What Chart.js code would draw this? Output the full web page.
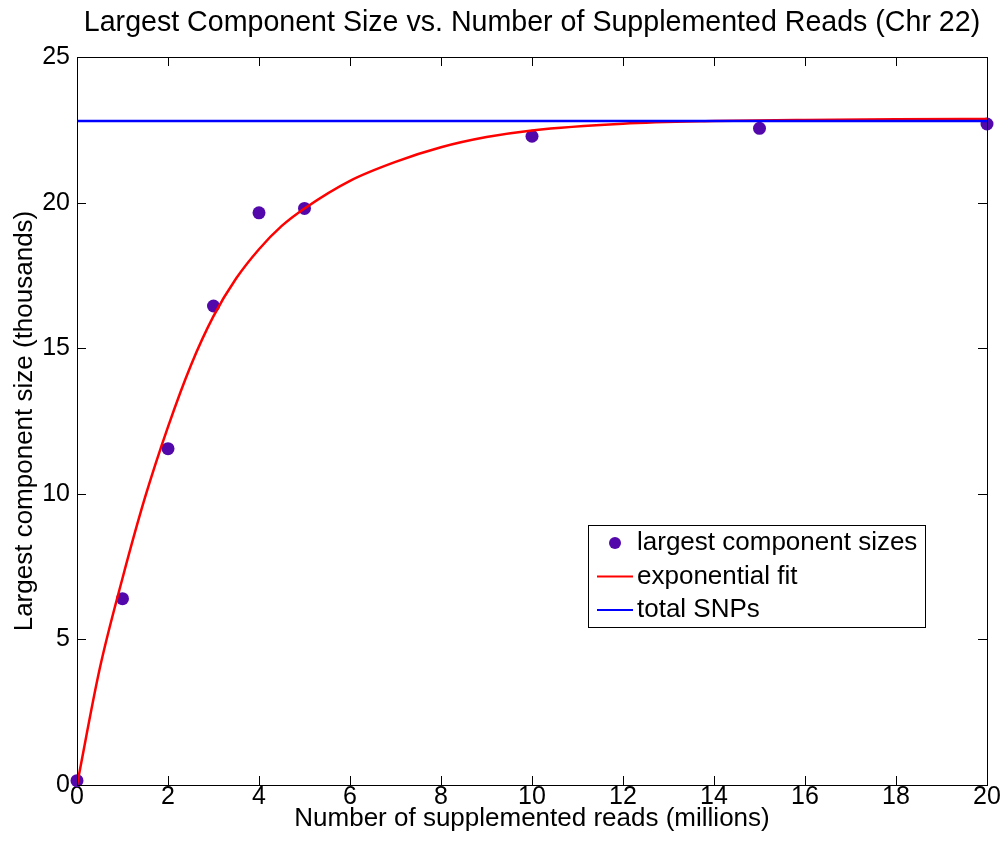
<!DOCTYPE html>
<html>
<head>
<meta charset="utf-8">
<script src="https://cdn.jsdelivr.net/npm/chart.js@4.4.1/dist/chart.umd.min.js"></script>
<style>
  html, body { margin: 0; padding: 0; background: #fff; }
  #wrap { width: 1006px; height: 844px; }
</style>
</head>
<body>
<div id="wrap"><canvas id="chart" width="1006" height="844"></canvas></div>
<script>
// x in millions of reads, y in thousands
const readsX = [0, 1, 2, 3, 4, 5, 10, 15, 20]
const compSizes = [0.15, 6.4, 11.55, 16.45, 19.65, 19.8, 22.28, 22.55, 22.7]

// red fitted curve
const fitX = [0, 0.5, 1, 1.5, 2, 2.5, 3, 3.5, 4, 4.5, 5, 6, 7, 8, 9, 10, 12, 14, 16, 18, 20]
const fitY = [0, 4.0, 7.1, 9.9, 12.3, 14.4, 16.1, 17.4, 18.4, 19.2, 19.8, 20.75, 21.4, 21.9, 22.25, 22.48, 22.71, 22.8, 22.84, 22.86, 22.87]

const snpX = [0, 20]
const snpY = [22.8, 22.8]

const titleText = 'Largest Component Size vs. Number of Supplemented Reads (Chr 22)'
const FONT = "'Liberation Sans', Arial, Helvetica, sans-serif"

function pts(xs, ys) {
    return xs.map((x, i) => ({ x: x, y: ys[i] }))
}

// matlab style box with inward ticks, title over the axes, legend inside
const boxPlugin = {
    id: 'matlabBox',
    afterDatasetsDraw(chart) {
        const ctx = chart.ctx
        const a = chart.chartArea
        const xs = chart.scales.x
        const ys = chart.scales.y
        const tl = 9
        ctx.save()
        ctx.strokeStyle = '#000'
        ctx.lineWidth = 1
        ctx.beginPath()
        xs.ticks.forEach(t => {
            const px = Math.round(xs.getPixelForValue(t.value)) + 0.5
            ctx.moveTo(px, a.bottom); ctx.lineTo(px, a.bottom - tl)
            ctx.moveTo(px, a.top); ctx.lineTo(px, a.top + tl)
        })
        ys.ticks.forEach(t => {
            const py = Math.round(ys.getPixelForValue(t.value)) + 0.5
            ctx.moveTo(a.left, py); ctx.lineTo(a.left + tl, py)
            ctx.moveTo(a.right, py); ctx.lineTo(a.right - tl, py)
        })
        ctx.stroke()
        ctx.strokeRect(Math.round(a.left) + 0.5, Math.round(a.top) + 0.5,
            Math.round(a.right - a.left), Math.round(a.bottom - a.top))
        ctx.restore()
    },
    afterDraw(chart) {
        const ctx = chart.ctx
        const a = chart.chartArea
        const ds = chart.data.datasets
        ctx.save()
        // title centred on the axes box like matlab does
        ctx.fillStyle = '#000'
        ctx.font = '28.6px ' + FONT
        ctx.textAlign = 'center'
        ctx.textBaseline = 'middle'
        ctx.fillText(titleText, (a.left + a.right) / 2, 23)

        const lx = 588, ly = 525, lw = 337, lh = 102
        ctx.fillStyle = '#fff'
        ctx.fillRect(lx, ly, lw, lh)
        ctx.strokeStyle = '#000'
        ctx.lineWidth = 1
        ctx.strokeRect(lx + 0.5, ly + 0.5, lw, lh)
        ctx.font = '26px ' + FONT
        ctx.textAlign = 'left'
        ds.forEach((d, i) => {
            const cy = ly + 18 + i * 33.5
            if (d.showLine === false) {
                ctx.fillStyle = d.backgroundColor
                ctx.beginPath()
                ctx.arc(lx + 27, cy, 6, 0, Math.PI * 2)
                ctx.fill()
            } else {
                ctx.strokeStyle = d.borderColor
                ctx.lineWidth = 2
                ctx.beginPath()
                ctx.moveTo(lx + 9, cy); ctx.lineTo(lx + 45, cy)
                ctx.stroke()
            }
            ctx.fillStyle = '#000'
            ctx.fillText(d.label, lx + 49, cy)
        })
        ctx.restore()
    }
}

new Chart(document.getElementById('chart'), {
    type: 'scatter',
    data: {
        datasets: [
            {
                label: 'largest component sizes',
                data: pts(readsX, compSizes),
                showLine: false,
                pointRadius: 6.5,
                pointHoverRadius: 6.5,
                backgroundColor: '#5208ab',
                borderWidth: 0,
                clip: false,
                order: 3
            },
            {
                label: 'exponential fit',
                data: pts(fitX, fitY),
                showLine: true,
                pointRadius: 0,
                borderColor: '#ff0000',
                borderWidth: 2.5,
                cubicInterpolationMode: 'monotone',
                order: 2
            },
            {
                label: 'total SNPs',
                data: pts(snpX, snpY),
                showLine: true,
                pointRadius: 0,
                borderColor: '#0000ff',
                borderWidth: 2.5,
                order: 1
            }
        ]
    },
    options: {
        responsive: false,
        animation: false,
        events: [],
        layout: { padding: { left: 0, right: 19, top: 0, bottom: 10 } },
        plugins: {
            legend: { display: false },
            tooltip: { enabled: false },
            // keeps the space at the top, text itself is painted by the plugin
            title: {
                display: true,
                text: titleText,
                color: 'rgba(0,0,0,0)',
                font: { family: FONT, size: 28.6, weight: 'normal' },
                padding: { top: 6, bottom: 16.7 }
            }
        },
        scales: {
            x: {
                type: 'linear',
                min: 0, max: 20,
                grid: { display: false, drawTicks: false },
                border: { display: false },
                ticks: { stepSize: 2, color: '#000', padding: -3, maxRotation: 0,
                         font: { family: FONT, size: 25 } },
                title: { display: true, text: 'Number of supplemented reads (millions)',
                         color: '#000', font: { family: FONT, size: 26 }, padding: 0 },
                afterFit(s) { s.height = 49 }
            },
            y: {
                type: 'linear',
                min: 0, max: 25,
                grid: { display: false, drawTicks: false },
                border: { display: false },
                ticks: { stepSize: 5, color: '#000', padding: 7,
                         font: { family: FONT, size: 25 } },
                title: { display: true, text: 'Largest component size (thousands)',
                         color: '#000', font: { family: FONT, size: 26 }, padding: { top: 9 } },
                afterFit(s) { s.width = 77 }
            }
        }
    },
    plugins: [boxPlugin]
})
</script>
</body>
</html>
